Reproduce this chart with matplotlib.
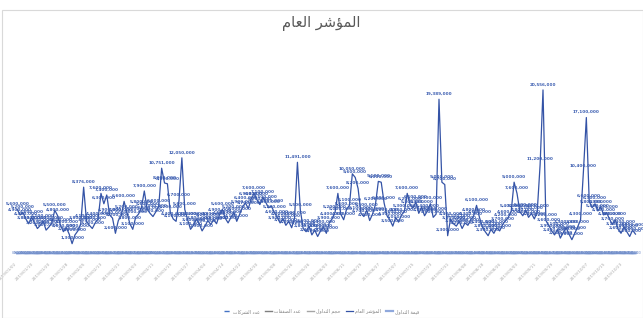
import matplotlib
matplotlib.use('Agg')
import matplotlib.pyplot as plt
from matplotlib.patches import Rectangle

# Arabic letters -> (first presentation-form code point, number of forms)
FORMS = {
    'ا': (0xFE8D, 2), 'أ': (0xFE83, 2), 'إ': (0xFE87, 2), 'آ': (0xFE81, 2),
    'ب': (0xFE8F, 4), 'ت': (0xFE95, 4), 'ث': (0xFE99, 4), 'ج': (0xFE9D, 4),
    'ح': (0xFEA1, 4), 'خ': (0xFEA5, 4), 'د': (0xFEA9, 2), 'ذ': (0xFEAB, 2),
    'ر': (0xFEAD, 2), 'ز': (0xFEAF, 2), 'س': (0xFEB1, 4), 'ش': (0xFEB5, 4),
    'ص': (0xFEB9, 4), 'ض': (0xFEBD, 4), 'ط': (0xFEC1, 4), 'ظ': (0xFEC5, 4),
    'ع': (0xFEC9, 4), 'غ': (0xFECD, 4), 'ف': (0xFED1, 4), 'ق': (0xFED5, 4),
    'ك': (0xFED9, 4), 'ل': (0xFEDD, 4), 'م': (0xFEE1, 4), 'ن': (0xFEE5, 4),
    'ه': (0xFEE9, 4), 'و': (0xFEED, 2), 'ؤ': (0xFE85, 2), 'ى': (0xFEEF, 2),
    'ي': (0xFEF1, 4), 'ة': (0xFE93, 2), 'ئ': (0xFE89, 4),
}


def shape_ar(text):
    out = []
    for k, ch in enumerate(text):
        if ch not in FORMS:
            out.append(ch)
            continue
        base, n = FORMS[ch]
        prev = text[k - 1] if k > 0 else ''
        nxt = text[k + 1] if k + 1 < len(text) else ''
        join_prev = prev in FORMS and FORMS[prev][1] == 4
        join_next = n == 4 and nxt in FORMS
        if join_prev and join_next:
            code = base + 3
        elif join_prev:
            code = base + 1
        elif join_next:
            code = base + 2
        else:
            code = base
        out.append(chr(code))
    return ''.join(reversed(out))


title = 'المؤشر العام'
series_names = ['المؤشر العام', 'قيمة التداول', 'حجم التداول', 'عدد الصفقات', 'عدد الشركات']

# main index series (millions)
index_vals = [
    5.6, 4.9, 5.2, 4.4, 3.8, 4.6, 3.9, 3.2, 3.6, 4.1, 3.0, 3.4, 3.9, 5.5, 4.8, 3.6,
    2.8, 3.3, 2.5, 1.3, 2.4, 2.9, 3.8,
    8.376,
    4.1, 3.6, 3.2, 3.9, 4.4,
    7.6, 6.3, 7.4,
    4.9, 4.5, 2.6, 4.2, 4.8,
    6.6, 5.2,
    3.8, 3.1, 4.6, 5.0, 5.8,
    7.9,
    5.6, 5.1, 4.7, 5.3, 6.0,
    10.751, 8.9, 8.8,
    5.2, 4.4, 4.1, 6.7,
    12.05,
    5.6, 4.3, 3.1, 3.6, 4.4, 3.8, 2.9, 3.5, 4.2, 3.7,
    4.3, 3.8, 4.9, 5.6, 4.5, 3.9, 4.6, 5.2, 4.1, 5.0,
    5.9, 6.4, 5.7, 6.9, 7.6, 6.8, 6.2, 7.1, 6.5, 5.8, 6.0,
    5.2, 4.6, 3.9, 4.4, 3.6, 4.1, 3.3, 4.5,
    11.491,
    5.5, 3.2, 2.8, 3.5, 2.4, 3.0, 2.2, 2.9, 3.4, 2.6,
    3.9, 4.4, 5.2, 7.6, 5.0, 4.3, 5.6, 6.1,
    10.05, 9.6, 8.2,
    5.1, 4.7, 5.5, 4.2, 5.0, 6.2,
    9.1, 9.0, 6.4,
    4.8, 4.3, 3.5, 4.6, 4.0, 4.9, 5.3,
    7.6,
    6.2, 5.8, 6.5, 5.1, 5.9, 4.8, 5.4, 6.3, 4.6, 5.0,
    19.389, 9.0, 8.7, 2.3,
    4.4, 3.8, 3.5, 4.1, 3.2, 3.9, 3.6, 4.3, 4.8,
    6.1,
    4.6, 3.4, 2.8, 2.3, 3.1, 2.6, 3.3, 2.9, 3.7, 4.2, 4.6,
    5.4, 9.0, 7.6, 5.3,
    4.8, 5.5, 4.6, 5.1, 4.4, 5.3,
    11.2, 20.556, 4.2,
    3.6, 2.9, 2.4, 3.1, 2.0, 2.7, 3.3, 2.5, 1.8, 2.6, 3.4,
    4.3, 10.4, 17.1, 6.6,
    5.8, 6.3, 5.4, 5.9, 4.9, 5.2, 4.4, 3.7, 4.3, 3.1, 2.6, 3.4, 2.8, 2.2, 3.0, 2.5,
]

# small series lying on the axis (thousands)
low_vals = [
    84, 96, 112, 78, 91, 105, 88, 73, 99, 118, 82, 94, 107, 86, 79,
    93, 101, 76, 88, 115, 97, 83, 109, 92, 74, 87, 103, 95, 81, 110,
    89, 77, 98, 106, 85, 72, 94, 113, 90, 80, 102, 87, 75, 96, 108,
    83, 99, 117, 79, 91, 104, 86, 73, 97, 111, 88, 82, 100, 93, 76,
    89, 107, 95, 78, 84, 102, 91, 74, 98, 114, 87, 81, 105, 92, 77,
    96, 109, 85, 73, 90, 103, 88, 79, 97, 116, 84, 92, 106, 80, 75,
    94, 111, 89, 82, 99, 104, 86, 71, 95, 112, 90, 78, 101, 93, 84,
    87, 108, 96, 80, 74, 97, 115, 88, 83, 102, 91, 76, 94, 110, 85,
    79, 100, 92, 86, 73, 98, 113, 89, 81, 104, 95, 77, 90, 107, 84,
    88, 101, 93, 75, 96, 118, 87, 82, 99, 106, 80, 72, 94, 112, 91,
    85, 103, 97, 78, 89, 109, 86, 74, 100, 114, 92, 83, 105, 90, 76,
    95, 108, 88, 81, 97, 102, 84, 73, 93, 116, 89, 79, 101, 96, 82,
    87, 110, 94, 77, 90, 104, 85, 75, 98, 113, 91, 80, 106, 92, 86,
    99, 107, 83, 74, 95, 111, 88, 82, 100, 103, 87, 78, 96, 109, 93,
    84, 102, 90, 76, 97,
]

tick_labels = [
    '2019/01/02', '2019/01/10', '2019/01/20', '2019/01/28', '2019/02/05', '2019/02/13',
    '2019/02/21', '2019/03/03', '2019/03/11', '2019/03/19', '2019/03/27', '2019/04/04',
    '2019/04/14', '2019/04/22', '2019/04/30', '2019/05/08', '2019/05/16', '2019/05/26',
    '2019/06/03', '2019/06/11', '2019/06/19', '2019/06/27', '2019/07/07', '2019/07/15',
    '2019/07/23', '2019/07/31', '2019/08/08', '2019/08/18', '2019/08/26', '2019/09/03',
    '2019/09/11', '2019/09/19', '2019/09/29', '2019/10/07', '2019/10/15', '2019/10/23',
]

n = len(index_vals)
xs = list(range(n))
low_m = [v / 1000.0 for v in low_vals[:n]]

fig = plt.figure(figsize=(6.43, 3.18), dpi=100)
fig.patches.append(Rectangle((0.003, 0.0), 0.997, 0.968, transform=fig.transFigure,
                             fill=False, edgecolor='#d9d9d9', linewidth=0.8))
ax = fig.add_axes([0.02, 0.186, 0.975, 0.688])

line_col = '#3453a6'
ax.plot(xs, low_m, color='#8fa8dc', linewidth=1.6, label=shape_ar(series_names[1]))
ax.plot(xs, index_vals, color=line_col, linewidth=0.9, label=shape_ar(series_names[0]))

for x, v in zip(xs, index_vals):
    ax.annotate('{:,.0f}'.format(v * 1e6), (x, v), xytext=(0, 2.5), textcoords='offset points',
                ha='center', va='bottom', fontsize=3.0, color='#3a5cb0', fontweight='bold')
for x, v in zip(xs, low_m):
    ax.annotate('{:,.0f}'.format(v * 1e6), (x, v), xytext=(0, 0), textcoords='offset points',
                ha='center', va='center', fontsize=2.4, color='#6f8cc8')

# empty entries to complete the legend
ax.plot([], [], color='#a5a5a5', linewidth=1, label=shape_ar(series_names[2]))
ax.plot([], [], color='#7f7f7f', linewidth=1, label=shape_ar(series_names[3]))
ax.plot([], [], color='#4472c4', linewidth=1, linestyle='--', label=shape_ar(series_names[4]))

ax.set_xlim(-1.5, n + 0.5)
ax.set_ylim(-0.6, 26.8)
ax.set_yticks([])
ax.set_xticks(xs[::6][:len(tick_labels)])
ax.set_xticklabels(tick_labels[:len(xs[::6])], rotation=45, ha='right', fontsize=3.1, color='#ababab')
ax.tick_params(axis='x', length=0, pad=2)
for s in ax.spines.values():
    s.set_visible(False)

fig.text(0.5, 0.925, shape_ar(title), ha='center', va='center', fontsize=10.5,
         color='#595959', family='DejaVu Sans')

handles, labels = ax.get_legend_handles_labels()
leg = fig.legend(handles[::-1], labels[::-1], loc='center', bbox_to_anchor=(0.5, 0.02), ncol=5,
                 fontsize=3.4, frameon=False, handlelength=1.5, columnspacing=1.2, handletextpad=0.4)
for t in leg.get_texts():
    t.set_color('#808080')

fig.savefig('out.png', dpi=100)
